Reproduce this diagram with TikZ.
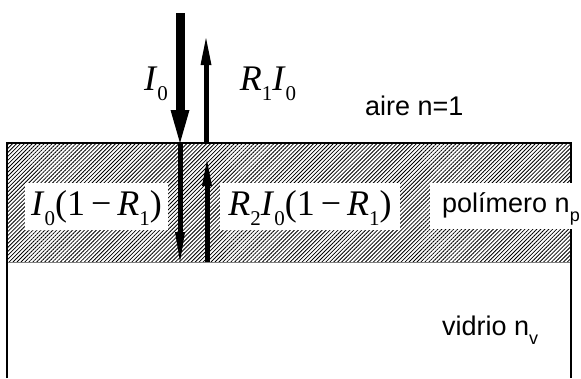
\documentclass[tikz,border=0pt]{standalone}
\usepackage{fontspec}
\setmainfont{Liberation Serif}
\setsansfont{Liberation Sans}
\usetikzlibrary{arrows.meta,patterns.meta}
\newcommand\msb[1]{\raisebox{-10pt}{\fontsize{21}{21}\selectfont #1}}
\newcommand\ssb[1]{\raisebox{-9pt}{\fontsize{18}{18}\selectfont #1}}
\newcommand\mI{\textit{I}}
\newcommand\mR{\textit{R}}
\begin{document}
\begin{tikzpicture}[x=1pt,y=-1pt,
  mlab/.style={inner sep=0pt,font=\fontsize{36}{36}\selectfont},
  slab/.style={inner sep=0pt,font=\sffamily\fontsize{27}{27}\selectfont},
  wbox/.style={fill=white,inner ysep=0pt},
  beam/.style={draw=black}]
\useasboundingbox (0,0) rectangle (581,378);
% polymer layer
\fill[pattern={Lines[angle=45,distance=2.8pt,line width=0.8pt]}] (7,143) rectangle (571,262);
\draw[gray,line width=0.8pt] (7,262) -- (571,262);
\draw[line width=1.1pt] (7,378) -- (7,143) -- (571,143) -- (571,378);
% white label boxes with texts
\node[wbox,mlab,anchor=base,minimum width=143pt,text height=32pt,text depth=15pt] (b1) at (96.5,215)
  {\mI\msb{0}(1\,−\,\mR\msb{1})};
\node[wbox,mlab,anchor=base,minimum width=180pt,text height=32pt,text depth=15pt] (b2) at (310,215)
  {\mR\msb{2}\mI\msb{0}(1\,−\,\mR\msb{1})};
\node[wbox,slab,anchor=base west,inner xsep=12pt,text height=29pt,text depth=17pt] (b3) at (430,212)
  {polímero n\ssb{p}\hspace{30pt}};
\node[wbox,slab,anchor=base west,inner xsep=10pt,text height=30pt,text depth=13pt] (b4) at (432,335)
  {vidrio n\ssb{v}\hspace{40pt}};
% labels in air
\node[mlab,anchor=base] (lI) at (156,90) {\mI\msb{0}};
\node[mlab,anchor=base] (lR) at (268,90) {\mR\msb{1}\mI\msb{0}};
\node[slab,anchor=base west] (lair) at (365,115) {aire n=1};
% beams
\coordinate (i0) at (180,13);
\coordinate (i1) at (180,143);
\coordinate (r0) at (206,143);
\coordinate (r1) at (206,38);
\coordinate (t0) at (180,143);
\coordinate (t1) at (180,262);
\coordinate (u0) at (207,262);
\coordinate (u1) at (207,160);
\draw[beam,line width=9pt,-{Triangle[length=33pt,width=19pt,line width=0pt]}] (i0) -- (i1);
\draw[beam,line width=5pt,-{Triangle[length=27pt,width=11pt,line width=0pt]}] (r0) -- (r1);
\draw[beam,line width=5pt,-{Triangle[length=30pt,width=10pt,line width=0pt]}] (t0) -- (t1);
\draw[beam,line width=5pt,-{Triangle[length=26pt,width=10pt,line width=0pt]}] (u0) -- (u1);
\end{tikzpicture}
\end{document}
